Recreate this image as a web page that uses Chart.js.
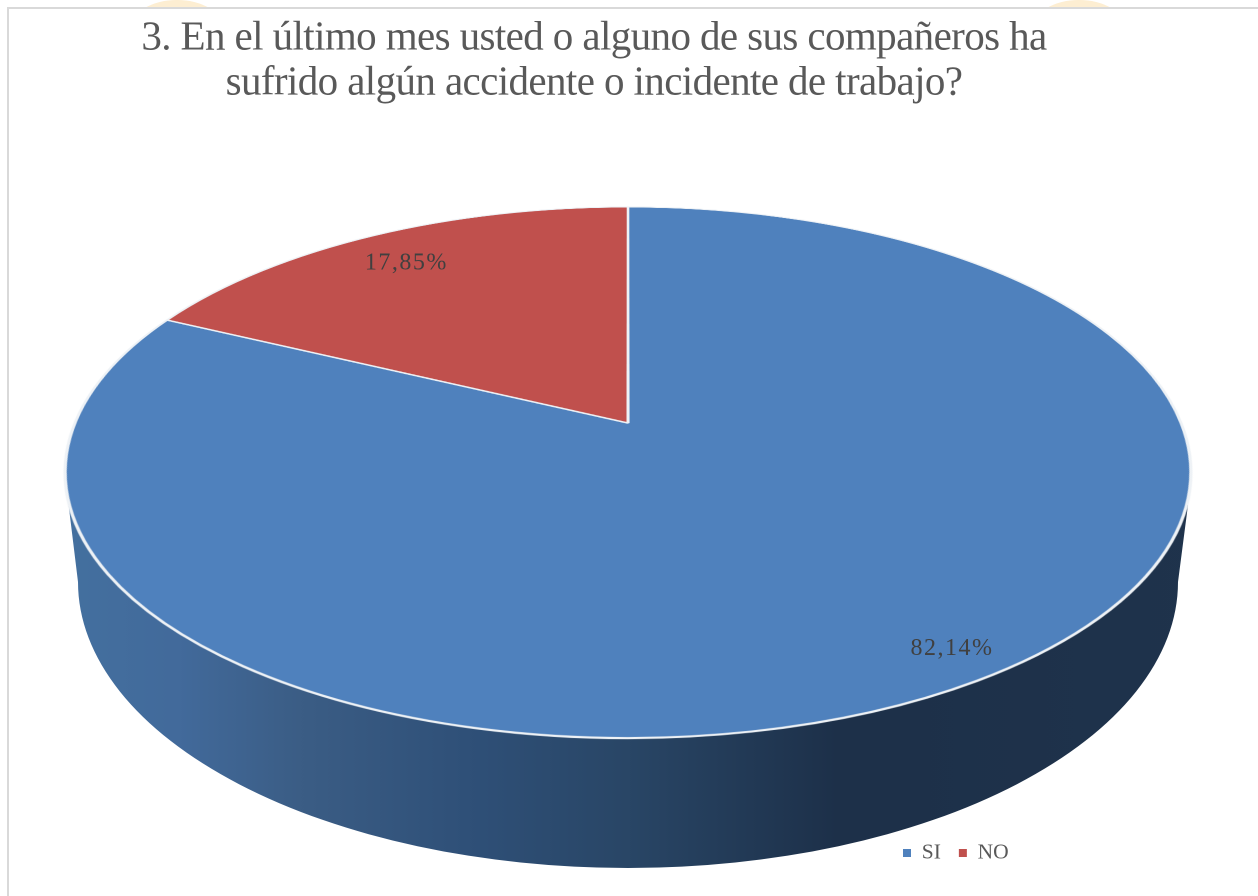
<!DOCTYPE html>
<html>
<head>
<meta charset="utf-8">
<title>Accidentes de trabajo</title>
<script src="https://cdn.jsdelivr.net/npm/chart.js@4"></script>
<style>
  html, body { margin: 0; padding: 0; background: #fff; }
  canvas { display: block; }
</style>
</head>
<body>
<canvas id="grafico" width="1258" height="896"></canvas>
<script>
// Datos
var categorias = ['SI', 'NO'];
var valores = [82.14, 17.85];
var etiquetas = ['82,14%', '17,85%'];
var colores = ['#4f81bd', '#c0504d'];
var tituloLineas = [
  '3. En el último mes usted o alguno de sus compañeros ha',
  'sufrido algún accidente o incidente de trabajo?'
];

// Perspectiva de la cara superior del pastel (centro real del circulo en 628,423)
var centroX = 628, centroY = 423;
var radioX = 553, radioY = 256.3, fuga = -0.1864;

function proyectar(u, v) {
  var w = 1 + fuga * v;
  return { x: centroX + radioX * u / w, y: centroY + radioY * v / w };
}

// Cara lateral: elipse inferior y degradado horizontal
function dibujarLateral(ctx) {
  var g = ctx.createLinearGradient(68, 0, 1190, 0);
  g.addColorStop(0, '#44709f');
  g.addColorStop(0.1, '#426a9b');
  g.addColorStop(0.207, '#3b5d85');
  g.addColorStop(0.358, '#2f5078');
  g.addColorStop(0.5, '#294666');
  g.addColorStop(0.688, '#1d3049');
  g.addColorStop(1, '#1f334c');
  ctx.fillStyle = g;
  ctx.beginPath();
  ctx.moveTo(68, 500);
  ctx.lineTo(78, 582);
  ctx.ellipse(628, 582, 550, 286, 0, Math.PI, 0, true);
  ctx.lineTo(1188, 505);
  ctx.closePath();
  ctx.fill();
}

var capaFondo = null;

var pastel3d = {
  id: 'pastel3d',
  beforeDraw: function (chart) {
    var ctx = chart.ctx;
    ctx.save();
    ctx.fillStyle = '#fff';
    ctx.fillRect(0, 0, 1258, 896);
    // manchas del fondo de la pagina, asoman sobre el marco
    ctx.fillStyle = '#fdeed2';
    ctx.beginPath();
    ctx.ellipse(177, 28, 46, 28, 0, 0, Math.PI * 2);
    ctx.ellipse(1079, 28, 46, 28, 0, 0, Math.PI * 2);
    ctx.fill();
    ctx.fillStyle = '#fff';
    ctx.fillRect(8, 8, 1250, 888);
    ctx.strokeStyle = '#d9d9d9';
    ctx.lineWidth = 2;
    ctx.strokeRect(8, 8, 1300, 950);
    ctx.restore();
  },
  afterLayout: function (chart) {
    // la leyenda va abajo a la derecha, no centrada
    var ley = chart.legend;
    var ancho = ley.right - ley.left;
    ley.left = 885;
    ley.right = 885 + ancho;
    var alto = ley.bottom - ley.top;
    ley.top = 849 - alto / 2;
    ley.bottom = ley.top + alto;

    // el titulo del original va mas apretado
    var bloque = chart.titleBlock;
    if (!bloque._apretado) {
      var dibujar = bloque.draw;
      bloque.draw = function () {
        this.ctx.letterSpacing = '-0.6px';
        dibujar.apply(this, arguments);
        this.ctx.letterSpacing = '0px';
      };
      bloque._apretado = true;
    }
  },
  beforeDatasetsDraw: function (chart) {
    // guardar titulo y leyenda, el pastel se dibuja en limpio para remapearlo
    var c = chart.canvas;
    capaFondo = document.createElement('canvas');
    capaFondo.width = c.width;
    capaFondo.height = c.height;
    capaFondo.getContext('2d').drawImage(c, 0, 0);
    chart.ctx.save();
    chart.ctx.setTransform(1, 0, 0, 1, 0, 0);
    chart.ctx.clearRect(0, 0, c.width, c.height);
    chart.ctx.restore();
  },
  afterDatasetsDraw: function (chart) {
    var c = chart.canvas, ctx = chart.ctx;
    var ratio = chart.currentDevicePixelRatio;
    var arco = chart.getDatasetMeta(0).data[0];
    var fx = arco.x * ratio, fy = arco.y * ratio, fr = arco.outerRadius * ratio;

    var pastel = document.createElement('canvas');
    pastel.width = c.width;
    pastel.height = c.height;
    pastel.getContext('2d').drawImage(c, 0, 0);

    ctx.save();
    ctx.setTransform(1, 0, 0, 1, 0, 0);
    ctx.clearRect(0, 0, c.width, c.height);
    ctx.drawImage(capaFondo, 0, 0);
    ctx.setTransform(ratio, 0, 0, ratio, 0, 0);
    dibujarLateral(ctx);
    ctx.setTransform(1, 0, 0, 1, 0, 0);

    // una tira por fila: el circulo de Chart.js pasa a la elipse en perspectiva
    var m = 4 * ratio;
    var arriba = centroY - radioY / (1 - fuga);
    var abajo = centroY + radioY / (1 + fuga);
    function filaV(Y) {
      var d = Y - centroY;
      return d / (radioY - fuga * d);
    }
    for (var fila = Math.floor(arriba * ratio) - 2; fila < abajo * ratio + 2; fila++) {
      var v0 = filaV(fila / ratio), v1 = filaV((fila + 1) / ratio);
      var w = 1 + fuga * (v0 + v1) / 2;
      var medio = (fr + m) / fr * radioX / w * ratio;
      ctx.drawImage(pastel, fx - fr - m, fy + v0 * fr, 2 * (fr + m), (v1 - v0) * fr,
        centroX * ratio - medio, fila, 2 * medio, 1);
    }
    ctx.restore();

    // porcentajes
    var total = valores[0] + valores[1];
    var fracciones = [0.9, 0.84];
    var ajusteX = [15.5, -3.5], ajusteY = [-2, 1];
    var acumulado = 0;
    ctx.save();
    ctx.font = '24px "Liberation Serif"';
    ctx.letterSpacing = '1.5px';
    ctx.fillStyle = '#404040';
    ctx.textAlign = 'center';
    ctx.textBaseline = 'middle';
    valores.forEach(function (val, i) {
      var medio = (acumulado + val / 2) / total * Math.PI * 2;
      acumulado += val;
      var p = proyectar(Math.sin(medio) * fracciones[i], -Math.cos(medio) * fracciones[i]);
      ctx.fillText(etiquetas[i], p.x + ajusteX[i], p.y + ajusteY[i]);
    });
    ctx.restore();
  }
};

var ctx = document.getElementById('grafico').getContext('2d');
var grafico = new Chart(ctx, {
  type: 'pie',
  data: {
    labels: categorias,
    datasets: [{
      data: valores,
      backgroundColor: colores,
      borderColor: '#eef2f6',
      borderWidth: 2
    }]
  },
  plugins: [pastel3d],
  options: {
    responsive: false,
    devicePixelRatio: 2,
    animation: false,
    layout: { padding: { top: 16, right: 70, bottom: 10, left: 0 } },
    plugins: {
      tooltip: { enabled: false },
      title: {
        display: true,
        text: tituloLineas,
        color: '#595959',
        font: { family: '"Liberation Serif"', size: 41, weight: 'normal', lineHeight: 1.1 },
        padding: { top: 0, bottom: 10 }
      },
      legend: {
        position: 'bottom',
        align: 'start',
        labels: {
          color: '#595959',
          font: { family: '"Liberation Serif"', size: 21.5 },
          usePointStyle: true,
          pointStyle: 'rect',
          boxWidth: 8,
          boxHeight: 8,
          padding: 18,
          // sin el borde de las porciones en los cuadritos
          generateLabels: function (chart) {
            return categorias.map(function (cat, i) {
              return {
                text: cat,
                fillStyle: colores[i],
                strokeStyle: colores[i],
                lineWidth: 0,
                fontColor: '#595959',
                pointStyle: 'rect',
                index: i
              };
            });
          }
        }
      }
    }
  }
});
</script>
</body>
</html>
